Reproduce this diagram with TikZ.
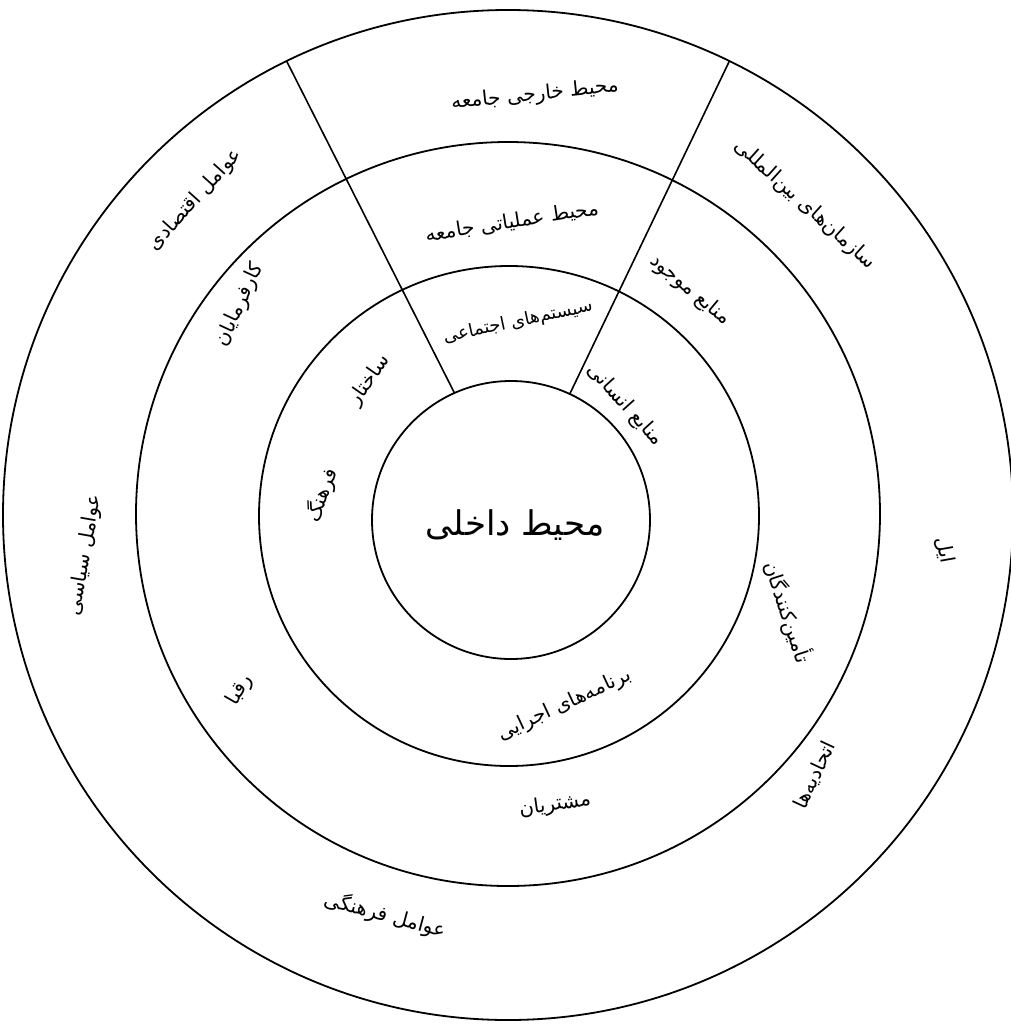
\documentclass[tikz,border=0pt]{standalone}
\usepackage{fontspec}
\newfontfamily\fa[Script=Arabic]{DejaVu Sans}
\TeXXeTstate=1
\begin{document}
\begin{tikzpicture}[x=1pt,y=-1pt,
  ring/.style={circle,draw,line width=1.8pt,inner sep=0pt,outer sep=0pt,minimum size=#1},
  sep/.style={line width=1.6pt},
  lbl/.style={inner sep=1pt,font=\fa\fontsize{20}{22}\selectfont},
  big/.style={inner sep=1pt,font=\fa\fontsize{34}{36}\selectfont}]
\useasboundingbox (0,0) rectangle (1011,1025);
\fill[white] (0,0) rectangle (1011,1025);
% circles
\node[ring=1010pt] (outer) at (508,515) {};
\node[ring=744pt]  (mid)   at (508,514) {};
\node[ring=500pt]  (inn)   at (509,516) {};
\node[ring=278pt]  (core)  at (511,520) {};
% separators of the top wedge
\draw[sep] (core.114) -- (outer.116);
\draw[sep] (core.65) -- (outer.64);
% centre
\node[big] (tcore) at (515,525) {\beginR محیط داخلی\endR};
% top wedge
\node[lbl,rotate=6]  (t1) at (535,95)  {\beginR محیط خارجی جامعه\endR};
\node[lbl,rotate=9]  (t2) at (512,222) {\beginR محیط عملیاتی جامعه\endR};
\node[lbl,rotate=12,font=\fa\fontsize{18}{20}\selectfont] (t3) at (518,322) {\beginR سیستم‌های اجتماعی\endR};
% outer ring
\node[lbl,rotate=-42] (o1) at (805,205) {\beginR سازمان‌های بین‌المللی\endR};
\node[lbl,rotate=48]  (o2) at (195,200) {\beginR عوامل اقتصادی\endR};
\node[lbl,rotate=80]  (o3) at (85,555)  {\beginR عوامل سیاسی\endR};
\node[lbl,rotate=-80] (o4) at (945,550) {\beginR ایل\endR};
\node[lbl,rotate=65]  (o5) at (815,775) {\beginR اتحادیه‌ها\endR};
\node[lbl,rotate=-15] (o6) at (385,915) {\beginR عوامل فرهنگی\endR};
% middle ring
\node[lbl,rotate=65]  (m1) at (240,305) {\beginR کارفرمایان\endR};
\node[lbl,rotate=-40] (m2) at (690,290) {\beginR منابع موجود\endR};
\node[lbl,rotate=60]  (m3) at (240,690) {\beginR رقبا\endR};
\node[lbl,rotate=-72] (m4) at (788,612) {\beginR تأمین‌کنندگان\endR};
\node[lbl,rotate=8]   (m5) at (555,805) {\beginR مشتریان\endR};
% inner ring
\node[lbl,rotate=55]  (i1) at (370,380) {\beginR ساختار\endR};
\node[lbl,rotate=70]  (i2) at (322,495) {\beginR فرهنگ\endR};
\node[lbl,rotate=-48] (i3) at (625,405) {\beginR منابع انسانی\endR};
\node[lbl,rotate=25]  (i4) at (565,705) {\beginR برنامه‌های اجرایی\endR};
\end{tikzpicture}
\end{document}
